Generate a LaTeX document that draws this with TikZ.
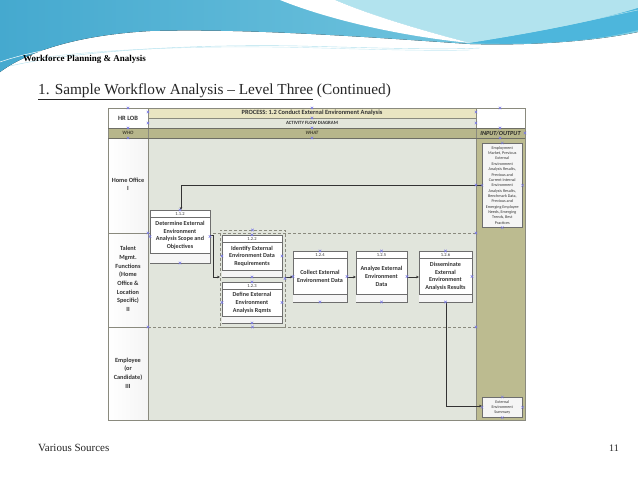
\documentclass[tikz,border=0pt]{standalone}
\usepackage{fontspec}
\setmainfont{Liberation Serif}
\newfontfamily\calfont{Carlito}
\usetikzlibrary{arrows.meta,calc}
\definecolor{swA}{HTML}{45A9CF}
\definecolor{swB}{HTML}{7FCDE3}
\definecolor{swC}{HTML}{B2E3EE}
\definecolor{swD}{HTML}{4DB6DC}
\definecolor{procrow}{HTML}{E9E5C2}
\definecolor{actrow}{HTML}{E3E6DB}
\definecolor{hdrrow}{HTML}{B7B68B}
\definecolor{whatbg}{HTML}{E1E5DC}
\definecolor{iobg}{HTML}{BCBB90}
\definecolor{gridln}{HTML}{8A8A7E}
\definecolor{boxln}{HTML}{6E6E6E}
\definecolor{txt}{HTML}{333333}
\definecolor{cpblue}{HTML}{7A7AE6}
\tikzset{
  pbox/.style={draw=boxln, line width=0.6pt, fill=white, inner sep=0pt, outer sep=0pt, anchor=north west},
  boxtext/.style={font=\calfont\bfseries\fontsize{6.1}{7.7}\selectfont, text=txt, align=center, inner sep=0pt},
  numtext/.style={font=\calfont\fontsize{4.5}{5}\selectfont, text=txt, inner sep=0pt},
  lanetext/.style={font=\calfont\bfseries\fontsize{6.3}{8.7}\selectfont, text=txt, align=center, inner sep=0pt},
  conn/.style={draw=black!80, line width=0.5pt, -{Stealth[length=3pt,width=2.6pt]}},
  lanesep/.style={draw=gridln, line width=0.7pt, dash pattern=on 3pt off 2pt},
  iotext/.style={font=\calfont\fontsize{4.1}{5.35}\selectfont, text=txt, align=center, inner sep=0pt},
  cpm/.style={draw=cpblue, line width=0.4pt}
}
\newcommand\procbox[8]{%
  \node[pbox, minimum width={#4-#2}, minimum height={#5-#3}] (#1) at (#2,#3) {};
  \fill[black!4] (#2+0.3,#6) rectangle (#4-0.3,#5-0.3);
  \draw[boxln, line width=0.5pt] (#2,#3+7.5) -- (#4,#3+7.5);
  \draw[boxln, line width=0.5pt] (#2,#6) -- (#4,#6);
  \node[numtext] at ({(#2+#4)/2},#3+3.9) {#7};
  \node[boxtext] at ({(#2+#4)/2},{(#3+7.5+#6)/2}) {#8};
}
\newcommand\cpmark[1]{\draw[cpm] ($(#1)+(-1.3,-1.3)$) -- ($(#1)+(1.3,1.3)$) ($(#1)+(-1.3,1.3)$) -- ($(#1)+(1.3,-1.3)$);}
\begin{document}
\begin{tikzpicture}[x=1pt,y=-1pt]
\useasboundingbox (0,0) rectangle (638,479);
\fill[white] (0,0) rectangle (638,479);
% ---- top swoosh ----
\draw[swB!60, line width=0.4pt] (10,66) .. controls (80,50) and (200,44) .. (300,46) .. controls (380,48) and (440,50) .. (480,48);
\draw[swB!45, line width=0.4pt] (25,60) .. controls (100,48) and (220,45) .. (320,48) .. controls (390,50) and (440,51) .. (470,50);
\fill[left color=swA, right color=swB] (0,0) -- (638,0) -- (638,32)
  .. controls (600,40) and (540,46) .. (470,44)
  .. controls (380,38) and (250,28) .. (150,31)
  .. controls (80,35) and (30,50) .. (0,72) -- cycle;
\fill[swC] (335,0) .. controls (370,15) and (420,30) .. (470,43)
  .. controls (540,32) and (600,20) .. (638,8) -- (638,0) -- cycle;
\fill[white] (280,0) .. controls (330,20) and (400,36) .. (470,43)
  .. controls (420,30) and (370,15) .. (335,0) -- cycle;
\fill[swD] (470,43) .. controls (540,32) and (600,20) .. (638,8)
  -- (638,30) .. controls (600,40) and (540,46) .. (470,43) -- cycle;
\draw[white, line width=0.5pt] (0,62) .. controls (40,48) and (100,40) .. (180,38);
\draw[swC, line width=0.5pt] (480,40) .. controls (550,30) and (600,18) .. (638,10);
% ---- titles ----
\node[anchor=base west, inner sep=0pt, font=\bfseries\fontsize{9}{10}\selectfont] (ttl) at (23,61) {Workforce Planning \& Analysis};
\node[anchor=base west, inner sep=0pt, font=\fontsize{15.3}{17}\selectfont, text=black!85] (sub) at (38,94) {\underline{1. Sample Workflow Analysis -- Level Three} (Continued)};
\node[anchor=base west, inner sep=0pt, font=\fontsize{11}{12}\selectfont, text=black!85] (src) at (38,451) {Various Sources};
\node[anchor=base east, inner sep=0pt, font=\fontsize{10}{12}\selectfont, text=black!85] (pg) at (619,451) {11};
% ---- frame backgrounds ----
\fill[whatbg] (148,138) rectangle (476,420);
\fill[iobg] (476,138) rectangle (525,420);
\fill[procrow] (148,108) rectangle (476,118);
\fill[actrow] (148,118) rectangle (476,128);
\fill[hdrrow] (108,128) rectangle (525,138);
\fill[white] (108,108) rectangle (148,128);
\fill[white] (476,108) rectangle (525,128);
\foreach \a/\b in {138/233,233/327,327/420}{
  \fill[left color=white, right color=black!4] (108,\a) rectangle (148,\b);
}
% grid lines
\draw[gridln, line width=0.6pt] (108,108) rectangle (525,420);
\draw[gridln, line width=0.6pt] (148,108) -- (148,420);
\draw[gridln, line width=0.6pt] (476,108) -- (476,420);
\draw[gridln, line width=0.5pt] (148,118) -- (476,118);
\draw[gridln!80!black, line width=0.8pt] (108,128) -- (525,128);
\draw[gridln!80!black, line width=0.8pt] (108,138) -- (525,138);
\draw[gridln, line width=0.6pt] (108,233) -- (148,233);
\draw[gridln, line width=0.6pt] (108,327) -- (148,327);
\draw[lanesep] (148,233) -- (476,233);
\draw[lanesep] (148,327) -- (476,327);
% header texts
\node[font=\calfont\bfseries\fontsize{6.5}{7}\selectfont, text=txt] (hrlob) at (128,118) {HR LOB};
\node[font=\calfont\bfseries\fontsize{6.4}{7}\selectfont, text=txt] (proc) at (312,113) {PROCESS: 1.2 Conduct External Environment Analysis};
\node[font=\calfont\bfseries\fontsize{4.8}{5}\selectfont, text=txt] (afd) at (312,123.2) {ACTIVITY FLOW DIAGRAM};
\node[font=\calfont\bfseries\itshape\fontsize{5}{5}\selectfont, text=black!70!olive] (who) at (128,133.2) {WHO};
\node[font=\calfont\bfseries\itshape\fontsize{5}{5}\selectfont, text=black!70!olive] (what) at (312,133.2) {WHAT};
\node[font=\calfont\bfseries\itshape\fontsize{6.2}{6}\selectfont, text=black!85] (io) at (500.5,133.2) {INPUT/OUTPUT};
% lane labels
\node[lanetext] (l1) at (128,184) {Home Office\\[-0.5pt] I};
\node[lanetext] (l2) at (128,279) {Talent\\Mgmt.\\Functions\\(Home\\Office \&\\Location\\Specific)\\II};
\node[lanetext] (l3) at (128,373) {Employee\\(or\\Candidate)\\III};
% input / output boxes
\node[draw=boxln, line width=0.6pt, fill=white!96!black, minimum width=40, minimum height=84, inner sep=0pt, anchor=north west] (inbox) at (482,143) {};
\node[iotext] (intext) at (inbox.center) {Employment\\Market, Previous\\External\\Environment\\Analysis Results,\\Previous and\\Current Internal\\Environment\\Analysis Results,\\Benchmark Data,\\Previous and\\Emerging Employee\\Needs, Emerging\\Trends, Best\\Practices};
\node[draw=boxln, line width=0.6pt, fill=white!96!black, minimum width=40, minimum height=20, inner sep=0pt, anchor=north west] (outbox) at (482,397) {};
\node[iotext] (outtext) at (outbox.center) {External\\Environment\\Summary};
% dashed group
\node[draw=gridln, line width=0.7pt, dash pattern=on 3pt off 2pt, minimum width=65, minimum height=97, inner sep=0pt, outer sep=0pt, anchor=north west] (grp) at (220,230) {};
% process boxes
\procbox{b112}{150}{210}{210}{263}{253}{1.1.2}{Determine External\\Environment\\Analysis Scope and\\Objectives}
\procbox{b122}{222}{235}{282}{277}{270}{1.2.2}{Identify External\\Environment Data\\Requirements}
\procbox{b123}{222}{282}{282}{323}{316}{1.2.3}{Define External\\Environment\\Analysis Rqmts}
\procbox{b124}{293}{251}{347}{302}{294}{1.2.4}{Collect External\\Environment Data}
\procbox{b125}{356}{251}{407}{302}{294}{1.2.5}{Analyze External\\Environment\\Data}
\procbox{b126}{419}{251}{472}{302}{294}{1.2.6}{Disseminate\\External\\Environment\\Analysis Results}
% connectors
\coordinate (c1) at (181,185);
\draw[conn] (inbox.west |- c1) -- (c1) -- (b112.north -| c1);
\coordinate (c2) at (213,235);
\coordinate (c3) at (213,277);
\draw[conn] (b112.east |- c2) -- (c2) -- (c3) -- (grp.west |- c3);
\draw[conn] (grp.east |- c3) -- (b124.west |- c3);
\draw[conn] (b124.east |- c3) -- (b125.west |- c3);
\draw[conn] (b125.east |- c3) -- (b126.west |- c3);
\coordinate (c4) at (446,406);
\draw[conn] (b126.south -| c4) -- (c4) -- (outbox.west |- c4);
% connection point markers
\foreach \p in {b112.north,b112.south,b112.west,b112.east,b122.north,b122.south,b122.west,b122.east,b123.north,b123.south,b123.west,b123.east,b124.north,b124.south,b124.west,b124.east,b125.north,b125.south,b125.east,b126.north,b126.south,b126.east,inbox.north,inbox.south,inbox.west,inbox.east,outbox.north,outbox.south,outbox.west,outbox.east,grp.north,grp.south,grp.east}{\cpmark{\p}}
\foreach \px/\py in {128/108,128/128,128/138,312/108,312/118,312/128,312/138,500/108,500/128,500/138,476/112,476/123,148/112,148/123,148/233,476/233,148/327,476/327,476/185,525/133}{\cpmark{\px,\py}}
\end{tikzpicture}
\end{document}
